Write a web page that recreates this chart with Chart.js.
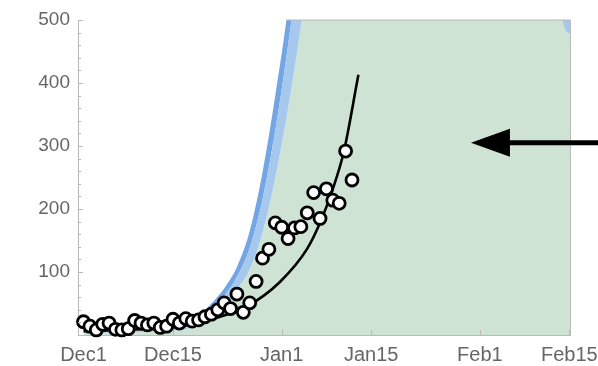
<!DOCTYPE html>
<html>
<head>
<meta charset="utf-8">
<script src="https://cdn.jsdelivr.net/npm/chart.js@4/dist/chart.umd.min.js"></script>
<style>
  html, body { margin: 0; padding: 0; background: #ffffff; }
  #wrap { width: 598px; height: 366px; position: relative; }
</style>
</head>
<body>
<div id="wrap"><canvas id="chart"></canvas></div>
<script>
// Daily observed counts; day 0 is Dec 1
const obsDays = [0, 1, 2, 3, 4, 5, 6, 7, 8, 9, 10, 11, 12, 13, 14, 15, 16, 17, 18, 19, 20,
                 21, 22, 23, 24, 25, 26, 27, 28, 29, 30, 31, 32, 33, 34, 35, 36, 37, 38, 39, 40, 41, 42];
const obsCounts = [21, 14, 8, 17, 19, 9, 8, 10, 23, 19, 16, 19, 12, 14, 25, 19, 26, 22, 24, 29, 33,
                   40, 51, 42, 65, 36, 51, 85, 122, 136, 178, 171, 153, 170, 172, 194, 226, 185, 232, 214, 209, 292, 246];

// Fitted growth curve
const fitDays   = [0, 5, 10, 15, 20, 25.5, 30.8, 35, 37, 39, 40.7, 43];
const fitValues = [6, 7.5, 9.5, 13, 25, 45, 85, 137, 178, 232, 290, 413];

// Projection envelope: upper edge, inner edge and lower edge
const bandDays  = [0, 5, 10, 14, 16, 18, 20, 22, 24, 26, 28, 30, 32, 34, 36, 45, 60, 74.9, 76.3];
const bandUpper = [4, 5, 7, 10, 17, 30, 50, 74, 108, 165, 258, 380, 520, 700, 950, 2600, 3600, 900, 560];
const bandInner = [3.5, 4.5, 6, 8, 13, 24, 40, 62, 92, 138, 215, 325, 460, 620, 850, 2300, 3200, 700, 505];
const bandLower = [2, 3, 5, 6.5, 9, 16, 28, 45, 72, 104, 162, 250, 360, 490, 650, 2000, 2800, 500, 476];

// Axis ticks
const tickDays   = [0, 14, 31, 45, 62, 76];
const tickLabels = ['Dec1', 'Dec15', 'Jan1', 'Jan15', 'Feb1', 'Feb15'];
const yTicks     = [100, 200, 300, 400, 500];

// Pointer arrow (day, value)
const arrowTail = [80.5, 305];
const arrowTip  = [60.6, 305];

const pts = (xs, ys) => xs.map((x, i) => ({ x: x, y: ys[i] }));

const GREEN = '#cfe3d5';
const LIGHT_BLUE = '#a6c8ec';
const DARK_BLUE = '#72a6e4';
const AXIS = '#b9b9b9';
const TEXT = '#666666';

// Inward tick marks, plot frame and the arrow
const decorations = {
  id: 'decorations',
  afterDraw(chart) {
    const { ctx, chartArea: a, scales: { x, y } } = chart;
    ctx.save();
    ctx.strokeStyle = AXIS;
    ctx.lineWidth = 1;
    // right frame edge
    ctx.beginPath();
    ctx.moveTo(Math.round(a.right) + 0.5, a.top);
    ctx.lineTo(Math.round(a.right) + 0.5, a.bottom);
    ctx.stroke();
    // x ticks pointing inward
    tickDays.slice(1).forEach(d => {
      const px = Math.round(x.getPixelForValue(d)) + 0.5;
      ctx.beginPath();
      ctx.moveTo(px, a.bottom);
      ctx.lineTo(px, a.bottom - 5);
      ctx.stroke();
    });
    // y ticks: major every 100, minor every 20
    for (let v = 20; v <= 500; v += 20) {
      const py = Math.round(y.getPixelForValue(v)) + 0.5;
      const len = (v % 100 === 0) ? 5 : 3;
      ctx.beginPath();
      ctx.moveTo(a.left, py);
      ctx.lineTo(a.left + len, py);
      ctx.stroke();
    }
    // arrow
    const tx = x.getPixelForValue(arrowTip[0]);
    const ty = y.getPixelForValue(arrowTip[1]);
    const sx = x.getPixelForValue(arrowTail[0]);
    const sy = y.getPixelForValue(arrowTail[1]);
    const headLen = 39, headHalf = 14;
    ctx.fillStyle = '#000';
    ctx.strokeStyle = '#000';
    ctx.lineWidth = 5;
    ctx.beginPath();
    ctx.moveTo(sx, sy);
    ctx.lineTo(tx + headLen - 2, ty);
    ctx.stroke();
    ctx.beginPath();
    ctx.moveTo(tx, ty);
    ctx.lineTo(tx + headLen, ty - headHalf);
    ctx.lineTo(tx + headLen, ty + headHalf);
    ctx.closePath();
    ctx.fill();
    ctx.restore();
  }
};

new Chart(document.getElementById('chart'), {
  type: 'scatter',
  data: {
    datasets: [
      {
        label: 'observed',
        data: pts(obsDays, obsCounts),
        pointRadius: 6,
        pointBorderWidth: 2.8,
        pointBackgroundColor: '#ffffff',
        pointBorderColor: '#000000',
        showLine: false,
        clip: false,
        order: 0
      },
      {
        label: 'fit',
        data: pts(fitDays, fitValues),
        showLine: true,
        borderColor: '#000000',
        borderWidth: 2.6,
        pointRadius: 0,
        cubicInterpolationMode: 'monotone',
        order: 1
      },
      {
        label: 'upper',
        data: pts(bandDays, bandUpper),
        showLine: true,
        borderWidth: 0,
        borderColor: 'rgba(0,0,0,0)',
        pointRadius: 0,
        fill: '+1',
        backgroundColor: DARK_BLUE,
        cubicInterpolationMode: 'monotone',
        order: 4
      },
      {
        label: 'inner',
        data: pts(bandDays, bandInner),
        showLine: true,
        borderWidth: 0,
        borderColor: 'rgba(0,0,0,0)',
        pointRadius: 0,
        fill: '+1',
        backgroundColor: LIGHT_BLUE,
        cubicInterpolationMode: 'monotone',
        order: 3
      },
      {
        label: 'lower',
        data: pts(bandDays, bandLower),
        showLine: true,
        borderWidth: 0,
        borderColor: 'rgba(0,0,0,0)',
        pointRadius: 0,
        fill: 'origin',
        backgroundColor: GREEN,
        cubicInterpolationMode: 'monotone',
        order: 5
      },
      {
        label: 'top edge',
        data: [{ x: 31.7, y: 500 }, { x: 76.1, y: 500 }],
        showLine: true,
        borderColor: AXIS,
        borderWidth: 1,
        pointRadius: 0,
        clip: false,
        order: 2
      }
    ]
  },
  options: {
    responsive: true,
    maintainAspectRatio: false,
    animation: false,
    events: [],
    layout: { padding: { top: 20, right: 28, left: 0, bottom: 0 } },
    plugins: {
      legend: { display: false },
      tooltip: { enabled: false },
      filler: { propagate: false }
    },
    scales: {
      x: {
        type: 'linear',
        min: -0.86,
        max: 76.1,
        afterFit: s => { s.height = 31; s.paddingLeft = 0; s.paddingRight = 0; },
        afterBuildTicks: s => { s.ticks = tickDays.map(v => ({ value: v })); },
        grid: { display: true, drawOnChartArea: false, drawTicks: false },
        border: { display: true, color: AXIS, width: 1 },
        ticks: {
          autoSkip: false,
          maxRotation: 0,
          padding: 8,
          color: TEXT,
          font: { family: '"Liberation Sans", Arial, sans-serif', size: 20 },
          callback: v => tickLabels[tickDays.indexOf(v)]
        }
      },
      y: {
        type: 'linear',
        min: 0,
        max: 500,
        afterFit: s => { s.width = 78; s.paddingTop = 0; s.paddingBottom = 0; },
        afterBuildTicks: s => { s.ticks = yTicks.map(v => ({ value: v })); },
        grid: { display: true, drawOnChartArea: false, drawTicks: false },
        border: { display: true, color: AXIS, width: 1 },
        ticks: {
          padding: 8,
          color: TEXT,
          font: { family: '"Liberation Sans", Arial, sans-serif', size: 19 }
        }
      }
    }
  },
  plugins: [decorations]
});
</script>
</body>
</html>
